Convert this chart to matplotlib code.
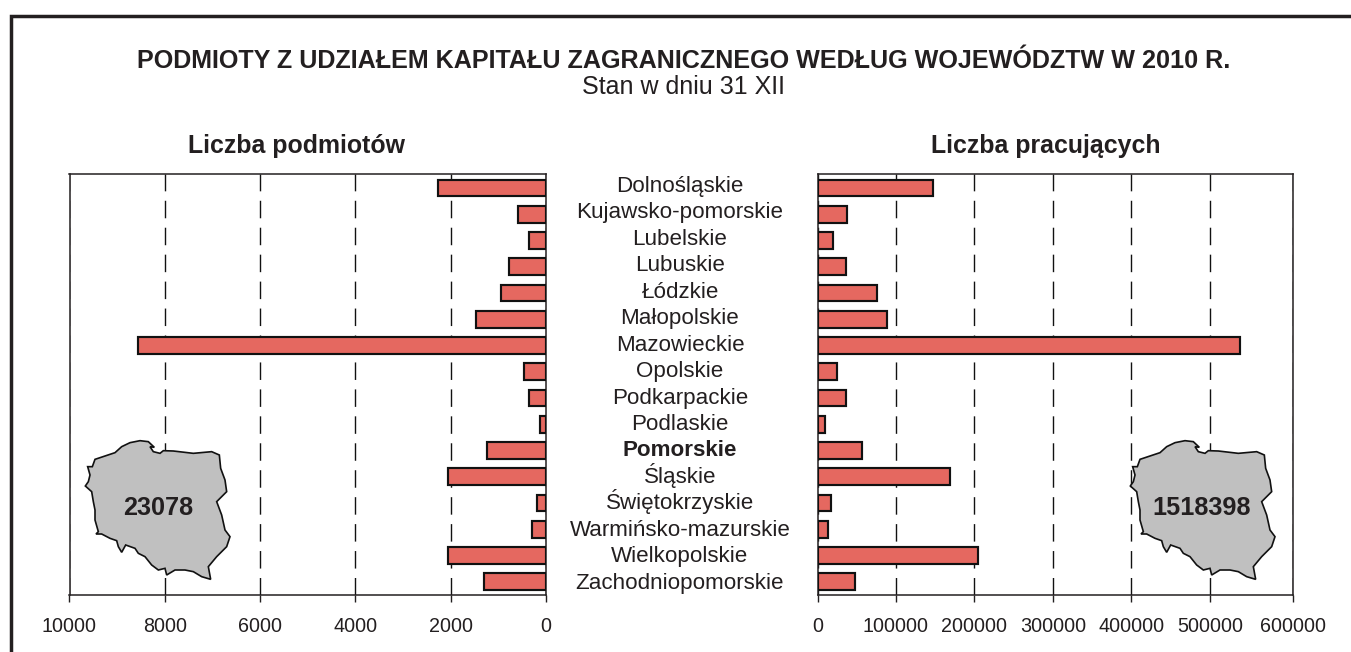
import matplotlib
matplotlib.use('Agg')
import matplotlib.pyplot as plt
from matplotlib.patches import Polygon
from matplotlib.lines import Line2D
import numpy as np

plt.rcParams['font.family'] = ['Liberation Sans', 'DejaVu Sans']

W, H = 1351, 652
INK = '#231f20'

regions = ['Dolnośląskie', 'Kujawsko-pomorskie', 'Lubelskie', 'Lubuskie', 'Łódzkie',
           'Małopolskie', 'Mazowieckie', 'Opolskie', 'Podkarpackie', 'Podlaskie',
           'Pomorskie', 'Śląskie', 'Świętokrzyskie', 'Warmińsko-mazurskie',
           'Wielkopolskie', 'Zachodniopomorskie']
podmioty = [2264, 587, 356, 776, 943, 1467, 8553, 461, 356, 126, 1237, 2054, 189, 293, 2054, 1300]
pracujacy = [146500, 37000, 19700, 35700, 75800, 88500, 536000, 24800, 36300, 9500, 56700,
             168800, 17800, 14000, 205000, 48400]
left_ticks = [10000, 8000, 6000, 4000, 2000, 0]
right_ticks = [0, 100000, 200000, 300000, 400000, 500000, 600000]

# the last interval of the right axis is a bit wider in the original
scale_from = [0, 500000, 600000]
scale_to = [0, 392.5, 475.5]

# outline of Poland, in zoomed pixels of the left map
outline = [(265, 65), (240, 62), (210, 68), (185, 80), (165, 98), (135, 108), (105, 118), (97, 140),
           (83, 140), (90, 165), (85, 185), (76, 198), (95, 215), (100, 245), (105, 270), (105, 300),
           (115, 335), (108, 342), (125, 342), (150, 355), (170, 362), (175, 380), (185, 397), (197, 375),
           (225, 385), (235, 400), (255, 410), (275, 435), (295, 450), (315, 445), (320, 465), (345, 450),
           (375, 450), (400, 455), (425, 470), (452, 478), (445, 440), (470, 410), (500, 380), (510, 350),
           (495, 330), (485, 285), (470, 245), (500, 215), (495, 180), (482, 145), (478, 105), (455, 95),
           (400, 100), (340, 93), (310, 92), (300, 100), (280, 95), (270, 80), (283, 82)]

fig = plt.figure(figsize=(W / 100, H / 100), dpi=100)


def axes_px(x0, y0, x1, y1):
    return fig.add_axes([x0 / W, 1 - y1 / H, (x1 - x0) / W, (y1 - y0) / H])


def fig_text(x, y, s, **kw):
    fig.text(x / W, 1 - y / H, s, ha='center', va='baseline', color=INK, **kw)


# frame: only top and left sides are visible
fig.add_artist(Line2D([10.8 / W, 10.8 / W, 1], [0, 1 - 15.6 / H, 1 - 15.6 / H], color=INK, lw=2.5,
                      solid_joinstyle='miter'))


def draw_panel(ax, values, ticks, xlim):
    y = np.arange(len(values))
    ax.barh(y, values, height=0.63, color='#e56860', ec='#111111', lw=1.55, zorder=3)
    ax.set_xlim(*xlim)
    ax.set_ylim(15.505, -0.533)
    ax.set_yticks([])
    ax.set_xticks(ticks)
    ax.tick_params(axis='x', labelsize=14.2, length=5.2, width=1.0, color=INK, pad=10.5, labelcolor=INK)
    ax.grid(axis='x', color='#111111', lw=1.0, ls=(0, (12.6, 6.8)), zorder=1)
    for s in ax.spines.values():
        s.set_linewidth(1.1)
        s.set_color(INK)


ax1 = axes_px(69.5, 174, 546, 595)
draw_panel(ax1, podmioty, left_ticks, (10000, 0))
ax2 = axes_px(817.5, 174, 1293, 595)
ax2.set_xscale('function', functions=(lambda v: np.interp(v, scale_from, scale_to),
                                      lambda p: np.interp(p, scale_to, scale_from)))
draw_panel(ax2, pracujacy, right_ticks, (0, 600000))
ax2.xaxis.set_major_formatter('{x:.0f}')
ax2.xaxis.set_minor_locator(matplotlib.ticker.NullLocator())

# maps on top of the panels
for dx in (0, 1045):
    pts = [((60 + px / 3 + dx) / W, 1 - (420 + py / 3) / H) for px, py in outline]
    fig.add_artist(Polygon(pts, closed=True, transform=fig.transFigure, fc='#c0c0c0', ec='#111111',
                           lw=1.2, zorder=5))
fig.text(158.3 / W, 1 - 515 / H, '23078', ha='center', va='baseline', fontsize=18.2, fontweight='bold',
         color=INK, zorder=6)
fig.text(1202 / W, 1 - 515 / H, '1518398', ha='center', va='baseline', fontsize=18.2, fontweight='bold',
         color=INK, zorder=6)

fig_text(683.5, 68, 'PODMIOTY Z UDZIAŁEM KAPITAŁU ZAGRANICZNEGO WEDŁUG WOJEWÓDZTW W 2010 R.',
         fontsize=18.1, fontweight='bold')
fig_text(683.5, 94, 'Stan w dniu 31 XII', fontsize=18)
fig_text(296.5, 153.3, 'Liczba podmiotów', fontsize=17.9, fontweight='bold')
fig_text(1046, 153.3, 'Liczba pracujących', fontsize=17.9, fontweight='bold')

for i, name in enumerate(regions):
    fig_text(680, 192 + i * 26.45, name, fontsize=16.1,
             fontweight='bold' if name == 'Pomorskie' else 'normal')

fig.savefig('out.png', dpi=100)
